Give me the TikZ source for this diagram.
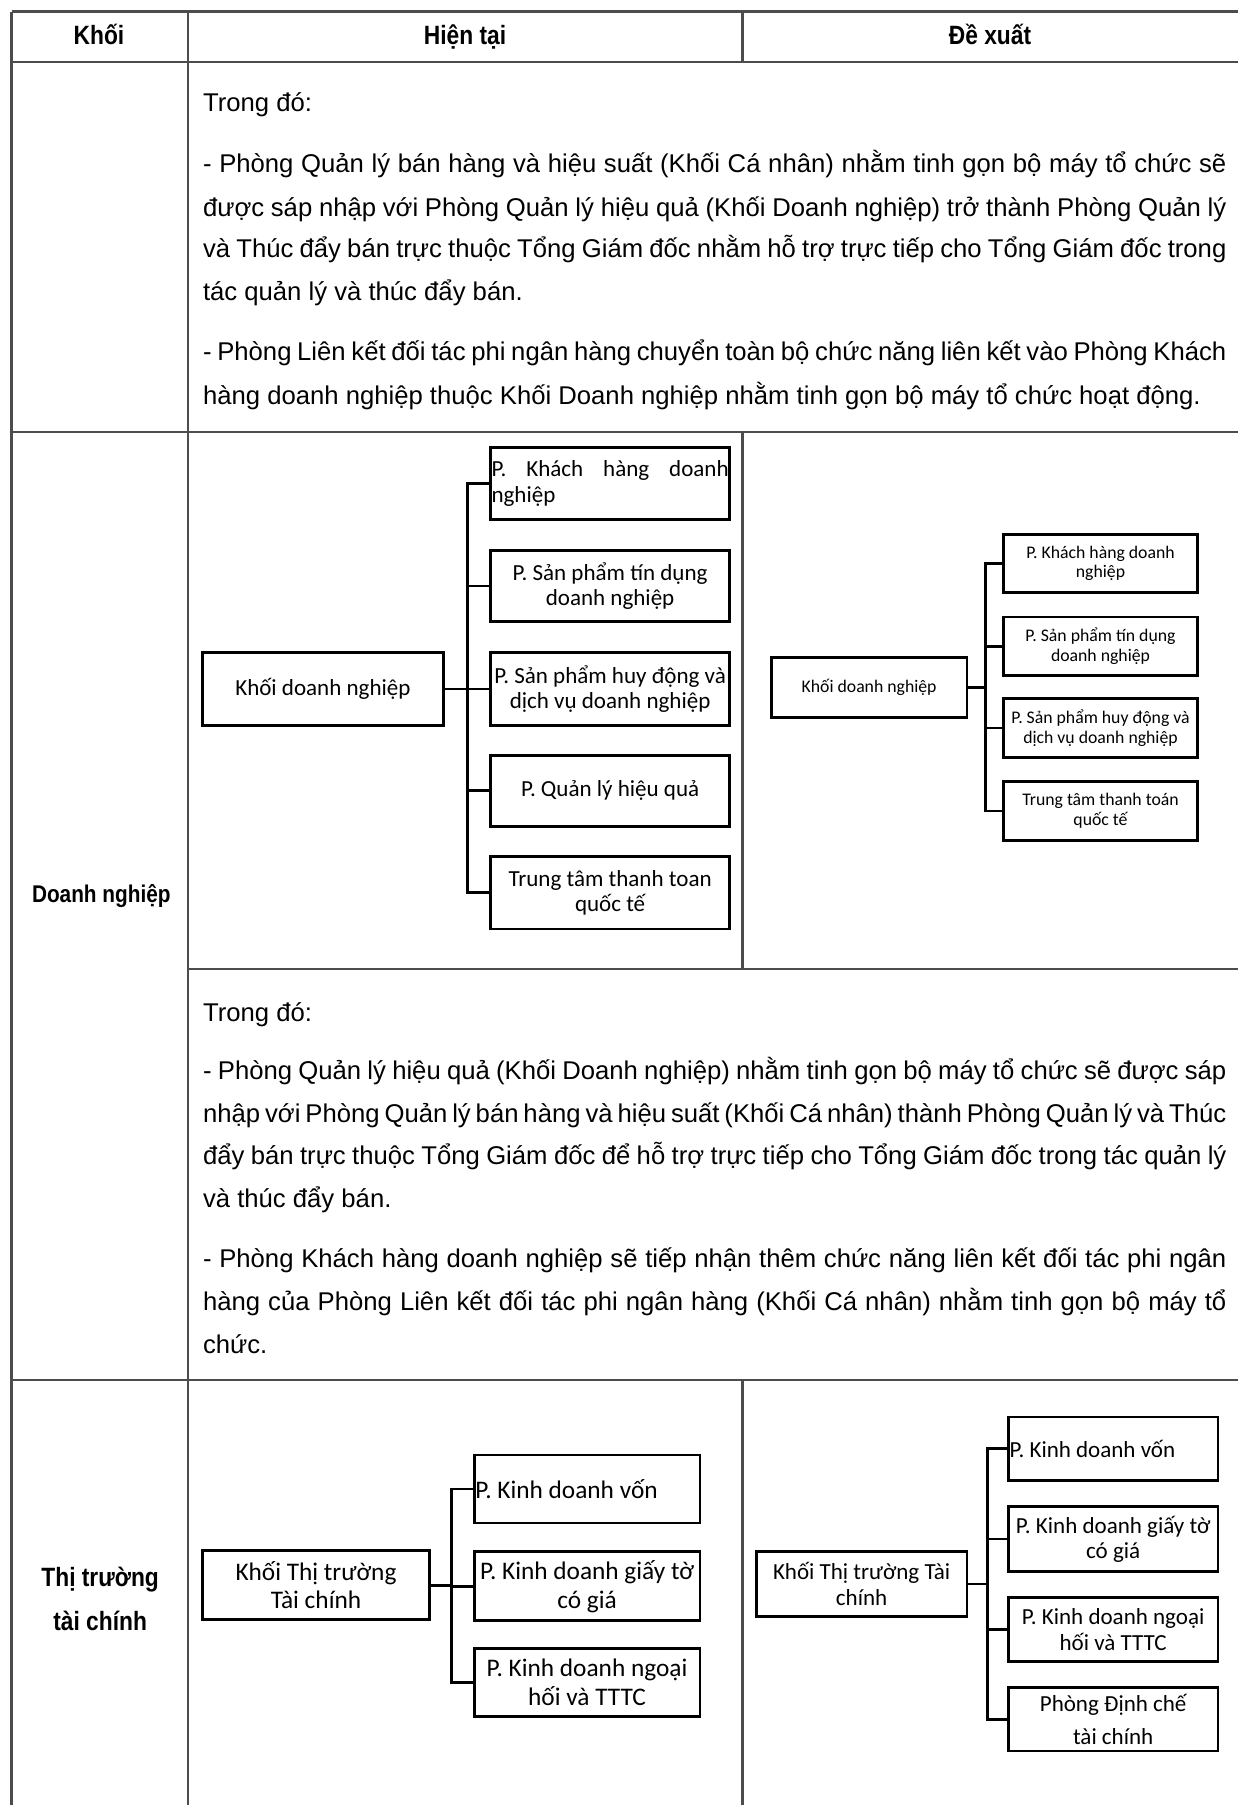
\documentclass[tikz,border=0pt]{standalone}
\usepackage{fontspec}
\setmainfont{Liberation Sans}
\newfontfamily\boxfont{Carlito}
\newfontfamily\narrowfont[FakeStretch=0.86]{Liberation Sans}
\newcommand\obox[7]{\node[bx,#6,minimum width={(#4-#2)*0.5pt},minimum height={(#5-#3)*0.5pt}] (#1) at ({(#2+#4)/2},{(#3+#5)/2}) {#7};}
\begin{document}
\begin{tikzpicture}[x=0.5pt,y=-0.5pt,
  tbl/.style={draw=black!70, line width=0.9pt},
  bx/.style={draw=black, line width=1.2pt, inner sep=0pt, align=center},
  bus/.style={draw=black, line width=1.2pt},
  body/.style={anchor=base west, inner sep=0pt, font=\fontsize{11.15}{13}\selectfont},
  lab/.style={inner sep=0pt, align=center, font=\narrowfont\bfseries\fontsize{11.5}{13}\selectfont},
  dnA/.style={font=\boxfont\fontsize{10}{11}\selectfont},
  dnB/.style={font=\boxfont\fontsize{7.7}{8.5}\selectfont},
  ttA/.style={font=\boxfont\fontsize{11}{12.5}\selectfont},
  ttB/.style={font=\boxfont\fontsize{10}{11}\selectfont}]
\fill[white] (0,0) rectangle (1075,1568);
\useasboundingbox (0,0) rectangle (1075,1568);
% table grid
\draw[tbl] (10,10) -- (1075,10);
\draw[tbl] (10,54) -- (1075,54);
\draw[tbl] (10,375) -- (1075,375);
\draw[tbl] (163,842) -- (1075,842);
\draw[tbl] (10,1199) -- (1075,1199);
\draw[tbl] (10,10) -- (10,1568);
\draw[tbl] (163,10) -- (163,1568);
\draw[tbl] (645,10) -- (645,54);
\draw[tbl] (645,375) -- (645,842);
\draw[tbl] (645,1199) -- (645,1568);
% headers and row labels
\node[lab, anchor=base] (hk) at (86,39) {Khối};
\node[lab, anchor=base] (hh) at (404,39) {Hiện tại};
\node[lab, anchor=base] (hd) at (860,39) {Đề xuất};
\node[lab, font=\narrowfont\bfseries\fontsize{10.5}{12}\selectfont] (ldn) at (88,778) {Doanh nghiệp};
\node[lab, font=\narrowfont\bfseries\fontsize{11.5}{19}\selectfont] (ltt) at (87,1389) {Thị trường\\tài chính};
% row 1 text
\node[body] (t1) at (176,97) {Trong đó:};
\node[body] (t2) at (176,150) {\makebox[444.5pt][s]{- Phòng Quản lý bán hàng và hiệu suất (Khối Cá nhân) nhằm tinh gọn bộ máy tổ chức sẽ}};
\node[body] (t3) at (176,188) {\makebox[444.5pt][s]{được sáp nhập với Phòng Quản lý hiệu quả (Khối Doanh nghiệp) trở thành Phòng Quản lý}};
\node[body] (t4) at (176,224) {\makebox[444.5pt][s]{và Thúc đẩy bán trực thuộc Tổng Giám đốc nhằm hỗ trợ trực tiếp cho Tổng Giám đốc trong}};
\node[body] (t5) at (176,261) {tác quản lý và thúc đẩy bán.};
\node[body] (t6) at (176,313) {\makebox[444.5pt][s]{- Phòng Liên kết đối tác phi ngân hàng chuyển toàn bộ chức năng liên kết vào Phòng Khách}};
\node[body] (t7) at (176,351) {hàng doanh nghiệp thuộc Khối Doanh nghiệp nhằm tinh gọn bộ máy tổ chức hoạt động.};
% row 2 text
\node[body] (u1) at (176,887) {Trong đó:};
\node[body] (u2) at (176,938) {\makebox[444.5pt][s]{- Phòng Quản lý hiệu quả (Khối Doanh nghiệp) nhằm tinh gọn bộ máy tổ chức sẽ được sáp}};
\node[body] (u3) at (176,975) {\makebox[444.5pt][s]{nhập với Phòng Quản lý bán hàng và hiệu suất (Khối Cá nhân) thành Phòng Quản lý và Thúc}};
\node[body] (u4) at (176,1012) {\makebox[444.5pt][s]{đẩy bán trực thuộc Tổng Giám đốc để hỗ trợ trực tiếp cho Tổng Giám đốc trong tác quản lý}};
\node[body] (u5) at (176,1049) {và thúc đẩy bán.};
\node[body] (u6) at (176,1101) {\makebox[444.5pt][s]{- Phòng Khách hàng doanh nghiệp sẽ tiếp nhận thêm chức năng liên kết đối tác phi ngân}};
\node[body] (u7) at (176,1138) {\makebox[444.5pt][s]{hàng của Phòng Liên kết đối tác phi ngân hàng (Khối Cá nhân) nhằm tinh gọn bộ máy tổ}};
\node[body] (u8) at (176,1176) {chức.};
% DN current
\obox{a0}{176}{567}{385}{630}{dnA}{Khối doanh nghiệp}
\obox{a1}{426}{389}{634}{451}{dnA,align=left}{\makebox[103pt][s]{P. Khách hàng doanh}\\nghiệp}
\obox{a2}{426}{478}{634}{540}{dnA}{P. Sản phẩm tín dụng\\doanh nghiệp}
\obox{a3}{426}{567}{634}{630}{dnA}{P. Sản phẩm huy động và\\dịch vụ doanh nghiệp}
\obox{a4}{426}{656}{634}{718}{dnA}{P. Quản lý hiệu quả}
\obox{a5}{426}{744}{634}{807}{dnA}{Trung tâm thanh toan\\quốc tế}
\coordinate (abus) at (406,0);
\draw[bus] (a0.east) -- (a0.east -| abus);
\draw[bus] (a1.west) -- (a1.west -| abus) -- (a5.west -| abus) -- (a5.west);
\foreach \n in {a2,a3,a4} \draw[bus] (\n.west) -- (\n.west -| abus);
% DN proposed
\obox{b0}{670}{571}{840}{623}{dnB}{Khối doanh nghiệp}
\obox{b1}{872}{464}{1040}{515}{dnB}{P. Khách hàng doanh\\nghiệp}
\obox{b2}{872}{536}{1040}{587}{dnB}{P. Sản phẩm tín dụng\\doanh nghiệp}
\obox{b3}{872}{607}{1040}{658}{dnB}{P. Sản phẩm huy động và\\dịch vụ doanh nghiệp}
\obox{b4}{872}{679}{1040}{730}{dnB}{Trung tâm thanh toán\\quốc tế}
\coordinate (bbus) at (856,0);
\draw[bus] (b0.east) -- (b0.east -| bbus);
\draw[bus] (b1.west) -- (b1.west -| bbus) -- (b4.west -| bbus) -- (b4.west);
\foreach \n in {b2,b3} \draw[bus] (\n.west) -- (\n.west -| bbus);
% TTTC current
\obox{c0}{176}{1347}{373}{1407}{ttA}{Khối Thị trường\\Tài chính}
\obox{c1}{412}{1264}{608}{1323}{ttA}{\makebox[97pt][l]{P. Kinh doanh vốn}}
\obox{c2}{412}{1348}{608}{1408}{ttA}{P. Kinh doanh giấy tờ\\có giá}
\obox{c3}{412}{1432}{608}{1491}{ttA}{P. Kinh doanh ngoại\\hối và TTTC}
\coordinate (cbus) at (392,0);
\draw[bus] (c0.east) -- (c0.east -| cbus);
\draw[bus] (c1.west) -- (c1.west -| cbus) -- (c3.west -| cbus) -- (c3.west);
\draw[bus] (c2.west) -- (c2.west -| cbus);
% TTTC proposed
\obox{d0}{657}{1348}{840}{1404}{ttB}{Khối Thị trường Tài\\chính}
\obox{d1}{876}{1231}{1058}{1286}{ttB}{\makebox[90pt][l]{P. Kinh doanh vốn}}
\obox{d2}{876}{1309}{1058}{1365}{ttB}{P. Kinh doanh giấy tờ\\có giá}
\obox{d3}{876}{1388}{1058}{1443}{ttB}{P. Kinh doanh ngoại\\hối và TTTC}
\obox{d4}{876}{1466}{1058}{1521}{ttB,font=\boxfont\fontsize{10}{14.5}\selectfont}{Phòng Định chế\\tài chính}
\coordinate (dbus) at (858,0);
\draw[bus] (d0.east) -- (d0.east -| dbus);
\draw[bus] (d1.west) -- (d1.west -| dbus) -- (d4.west -| dbus) -- (d4.west);
\foreach \n in {d2,d3} \draw[bus] (\n.west) -- (\n.west -| dbus);
\end{tikzpicture}
\end{document}
